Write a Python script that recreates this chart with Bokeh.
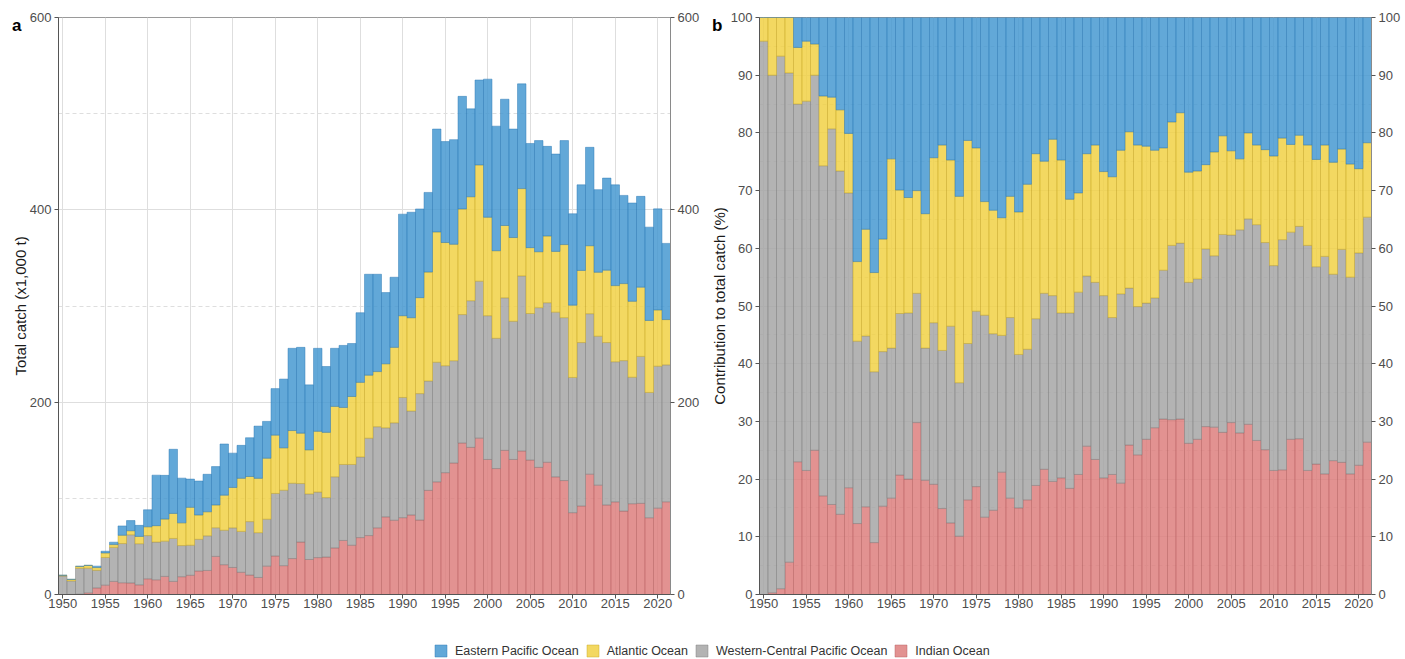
from bokeh.plotting import figure
from bokeh.models import (Range1d, FixedTicker, LinearAxis, Legend, LegendItem,
                          ColumnDataSource, NumeralTickFormatter)
from bokeh.layouts import row, column
from bokeh.embed import file_html
from bokeh.resources import INLINE

years = list(range(1950, 2022))
series_names = ["Indian Ocean", "Western-Central Pacific Ocean", "Atlantic Ocean", "Eastern Pacific Ocean"]
legend_order = ["Eastern Pacific Ocean", "Atlantic Ocean", "Western-Central Pacific Ocean", "Indian Ocean"]

# Panel a: total catch (x1,000 t)
catch_indian = [0.0, 0.05, 0.3, 1.7, 6.8, 9.7, 13.6, 12.2, 12.0, 10.0,
                16.3, 15.3, 18.8, 13.6, 18.5, 20.0, 24.4, 25.0, 39.6, 31.0,
                28.1, 23.1, 20.2, 17.7, 29.5, 40.0, 30.0, 37.4, 54.5, 36.4,
                38.4, 38.9, 48.4, 56.2, 51.2, 59.2, 61.3, 69.3, 80.7, 77.2,
                79.9, 82.7, 77.4, 108.3, 117.1, 126.7, 136.7, 157.5, 153.0, 162.6,
                140.4, 131.0, 149.9, 140.4, 149.2, 139.8, 132.2, 137.5, 122.3, 118.5,
                85.1, 92.0, 125.1, 113.7, 93.1, 96.3, 86.7, 94.4, 94.8, 79.8,
                89.8, 96.4]
catch_wcpo = [19.2, 14.1, 27.0, 25.7, 18.3, 28.8, 35.4, 40.8, 50.1, 42.8,
              45.0, 39.2, 36.7, 44.7, 32.4, 31.2, 33.0, 36.0, 29.8, 35.8,
              41.2, 42.5, 55.6, 46.6, 48.8, 65.1, 78.4, 78.3, 60.9, 68.2,
              68.1, 61.9, 74.0, 79.0, 84.0, 83.8, 101.2, 105.2, 92.6, 101.3,
              125.0, 108.1, 131.5, 113.7, 124.4, 111.2, 106.4, 133.6, 152.5, 163.2,
              149.5, 135.4, 158.6, 143.7, 182.1, 152.4, 166.1, 165.9, 171.3, 169.4,
              140.6, 170.0, 166.9, 154.9, 168.9, 145.7, 156.5, 131.5, 152.8, 130.3,
              147.6, 142.4]
catch_atlantic = [0.8, 1.6, 2.0, 2.9, 2.9, 4.7, 2.9, 8.6, 4.2, 7.6,
                  9.1, 17.1, 22.9, 26.0, 23.6, 39.4, 25.3, 25.0, 23.7, 36.5,
                  42.0, 55.2, 46.9, 56.5, 63.4, 60.6, 44.1, 54.8, 52.4, 45.8,
                  63.2, 67.8, 73.2, 59.3, 70.7, 77.6, 65.6, 57.3, 66.6, 78.5,
                  85.0, 97.0, 99.8, 113.3, 135.5, 128.1, 121.1, 109.8, 108.1, 120.9,
                  102.4, 91.1, 75.2, 87.1, 90.8, 68.5, 58.1, 69.4, 63.2, 76.0,
                  75.2, 75.0, 70.7, 66.5, 75.3, 79.2, 80.1, 79.0, 72.0, 74.9,
                  58.5, 47.1]
catch_epo = [0.0, 0.0, 0.0, 0.0, 1.5, 1.8, 2.5, 9.7, 10.6, 11.5,
             17.7, 52.5, 45.5, 66.7, 46.5, 29.4, 35.3, 39.0, 39.9, 53.2,
             35.7, 34.3, 40.3, 54.3, 38.3, 48.4, 71.5, 85.5, 89.2, 67.6,
             86.3, 68.5, 60.4, 64.5, 55.1, 72.4, 104.9, 101.2, 74.1, 72.9,
             105.6, 109.7, 92.2, 82.8, 107.0, 105.0, 108.8, 117.1, 91.4, 88.3,
             143.6, 129.5, 131.3, 112.8, 108.9, 108.3, 115.6, 93.2, 101.2, 108.1,
             95.0, 89.0, 102.3, 85.9, 95.7, 104.8, 91.7, 102.2, 94.4, 97.0,
             105.1, 79.2]

# Panel b: contribution to total catch (%)
pct_indian = [0.0, 0.3, 1.0, 5.6, 23.0, 21.5, 25.0, 17.1, 15.6, 13.9,
              18.5, 12.3, 15.2, 9.0, 15.3, 16.7, 20.7, 20.0, 29.8, 19.8,
              19.1, 14.9, 12.4, 10.1, 16.4, 18.7, 13.4, 14.6, 21.2, 16.7,
              15.0, 16.4, 18.9, 21.7, 19.6, 20.2, 18.4, 20.8, 25.7, 23.4,
              20.2, 20.8, 19.3, 25.9, 24.2, 26.9, 28.9, 30.4, 30.3, 30.4,
              26.2, 26.9, 29.1, 29.0, 28.1, 29.8, 28.0, 29.5, 26.7, 25.1,
              21.5, 21.6, 26.9, 27.0, 21.5, 22.6, 20.9, 23.2, 22.9, 20.9,
              22.4, 26.4]
pct_wcpo = [95.9, 89.7, 92.3, 84.8, 62.0, 64.0, 65.0, 57.2, 65.1, 59.5,
            51.1, 31.6, 29.6, 29.6, 26.8, 26.0, 28.0, 28.8, 22.4, 22.9,
            28.0, 27.4, 34.1, 26.6, 27.1, 30.4, 35.0, 30.6, 23.7, 31.3,
            26.6, 26.1, 28.9, 30.5, 32.2, 28.6, 30.4, 31.6, 29.5, 30.7,
            31.6, 27.2, 32.8, 27.2, 25.7, 23.6, 22.5, 25.8, 30.2, 30.5,
            27.9, 27.8, 30.8, 29.7, 34.3, 32.5, 35.2, 35.6, 37.4, 35.9,
            35.5, 39.9, 35.9, 36.8, 39.0, 34.2, 37.7, 32.3, 36.9, 34.1,
            36.8, 39.0]
pct_atlantic = [4.1, 10.0, 6.7, 9.6, 9.8, 10.4, 5.4, 12.1, 5.5, 10.6,
                10.3, 13.8, 18.5, 17.2, 19.5, 32.8, 21.4, 20.0, 17.8, 23.3,
                28.6, 35.6, 28.8, 32.3, 35.2, 28.3, 19.7, 21.4, 20.4, 21.0,
                24.7, 28.6, 28.6, 22.9, 27.1, 26.5, 19.7, 17.2, 21.2, 23.8,
                21.5, 24.4, 24.9, 27.1, 28.0, 27.2, 25.6, 21.2, 21.4, 22.6,
                19.1, 18.7, 14.6, 18.0, 17.1, 14.6, 12.3, 14.9, 13.8, 16.1,
                19.0, 17.6, 15.2, 15.8, 17.4, 18.6, 19.3, 19.4, 17.4, 19.6,
                14.6, 12.9]
pct_epo = [0.0, 0.0, 0.0, 0.0, 5.2, 4.1, 4.6, 13.6, 13.8, 16.0,
           20.1, 42.3, 36.7, 44.2, 38.4, 24.5, 29.9, 31.2, 30.0, 34.0,
           24.3, 22.1, 24.7, 31.0, 21.3, 22.6, 31.9, 33.4, 34.7, 31.0,
           33.7, 28.9, 23.6, 24.9, 21.1, 24.7, 31.5, 30.4, 23.6, 22.1,
           26.7, 27.6, 23.0, 19.8, 22.1, 22.3, 23.0, 22.6, 18.1, 16.5,
           26.8, 26.6, 25.5, 23.3, 20.5, 23.1, 24.5, 20.0, 22.1, 22.9,
           24.0, 20.9, 22.0, 20.4, 22.1, 24.6, 22.1, 25.1, 22.8, 25.4,
           26.2, 21.7]

x_ticks = list(range(1950, 2021, 5))

FONT = "Liberation Sans"
fills = {"Indian Ocean": "#DD7F7E", "Western-Central Pacific Ocean": "#A6A6A6",
         "Atlantic Ocean": "#F1D145", "Eastern Pacific Ocean": "#4699D1"}
edges = {"Indian Ocean": "#B86462", "Western-Central Pacific Ocean": "#7E7E7E",
         "Atlantic Ocean": "#C9A82A", "Eastern Pacific Ocean": "#2F7BB5"}
keys = ["ind", "wcp", "atl", "epo"]
FRAME_H = 577


def style_axis(ax):
    ax.major_label_text_font = FONT
    ax.major_label_text_font_size = "13px"
    ax.major_label_text_color = "#4d4d4d"
    ax.axis_label_text_font = FONT
    ax.axis_label_text_font_size = "15px"
    ax.axis_label_text_font_style = "normal"
    ax.axis_label_text_color = "#1a1a1a"
    ax.major_tick_in = 0
    ax.major_tick_out = 4
    ax.minor_tick_line_color = None
    ax.major_tick_line_color = "#555555"
    ax.axis_line_color = "#555555"
    ax.major_label_standoff = 3


def make_panel(vals, ymax, yticks, yminor, ylabel, tag, left_border, right_border,
               title_standoff, tag_standoff):
    src = ColumnDataSource(dict(year=years, **dict(zip(keys, vals))))
    p = figure(frame_width=612, frame_height=FRAME_H, x_range=Range1d(1949.5, 2021.5),
               y_range=Range1d(0, ymax), toolbar_location=None, output_backend="svg",
               min_border_left=left_border, min_border_right=right_border,
               min_border_top=17, min_border_bottom=19)
    p.vbar_stack(keys, x="year", width=1.0, source=src,
                 fill_color=[fills[n] for n in series_names],
                 line_color=[edges[n] for n in series_names],
                 fill_alpha=0.85, line_alpha=0.8, line_width=0.6)
    p.outline_line_color = "#9a9a9a"
    p.xgrid.ticker = FixedTicker(ticks=x_ticks)
    p.xgrid.grid_line_color = "#dedede"
    p.ygrid.ticker = FixedTicker(ticks=yticks, minor_ticks=yminor)
    p.ygrid.grid_line_color = "#dedede"
    p.ygrid.minor_grid_line_color = "#dedede"
    p.ygrid.minor_grid_line_dash = "4 3"
    p.xaxis.ticker = FixedTicker(ticks=x_ticks)
    p.xaxis.formatter = NumeralTickFormatter(format="0")
    p.yaxis.ticker = FixedTicker(ticks=yticks)
    p.yaxis.axis_label = ylabel
    right = LinearAxis(ticker=FixedTicker(ticks=yticks))
    p.add_layout(right, "right")
    for ax in p.xaxis + p.yaxis:
        style_axis(ax)
    p.xaxis.major_label_standoff = 0
    p.yaxis[0].axis_label_standoff = title_standoff
    right.axis_line_color = "#8a8a8a"

    # panel tag, drawn as the single label of an outer, line-less axis
    p.extra_y_ranges = {"tag": Range1d(0, FRAME_H)}
    tag_pos = FRAME_H - 8
    tag_axis = LinearAxis(y_range_name="tag", ticker=FixedTicker(ticks=[tag_pos]),
                          major_label_overrides={tag_pos: tag})
    tag_axis.axis_line_color = None
    tag_axis.major_tick_line_color = None
    tag_axis.minor_tick_line_color = None
    tag_axis.major_tick_out = 0
    tag_axis.major_tick_in = 0
    tag_axis.major_label_standoff = tag_standoff
    tag_axis.major_label_text_font = FONT
    tag_axis.major_label_text_font_size = "17px"
    tag_axis.major_label_text_font_style = "bold"
    tag_axis.major_label_text_color = "#000000"
    p.add_layout(tag_axis, "left")
    return p


pa = make_panel([catch_indian, catch_wcpo, catch_atlantic, catch_epo], 600,
                [0, 200, 400, 600], [100, 300, 500], "Total catch (x1,000 t)", "a", 58, 30, -2, -13)
pb = make_panel([pct_indian, pct_wcpo, pct_atlantic, pct_epo], 100,
                list(range(0, 101, 10)), list(range(5, 100, 10)),
                "Contribution to total catch (%)", "b", 57, 26, 0, -15)

# Legend strip
pl = figure(width=1395, height=45, x_range=Range1d(0, 1), y_range=Range1d(0, 1),
            toolbar_location=None, output_backend="svg", min_border=0,
            x_axis_location=None, y_axis_location=None)
pl.grid.visible = False
pl.outline_line_color = None
items = []
for n in legend_order:
    r = pl.vbar(x=[-5.0], top=[-5.0], width=0.1, fill_color=fills[n], line_color=edges[n],
                fill_alpha=0.85, line_alpha=0.8, line_width=0.6)
    items.append(LegendItem(label=n, renderers=[r]))
leg = Legend(items=items, orientation="horizontal", location=(433, 0),
             border_line_color=None, background_fill_alpha=0, glyph_width=15, glyph_height=15,
             label_text_font=FONT, label_text_font_size="12.5px", label_text_color="#333333",
             spacing=6, label_standoff=7, padding=0, margin=0)
pl.add_layout(leg, "center")

layout = column(row(pa, pb), pl)
open("out.html", "w").write(file_html(layout, INLINE))
